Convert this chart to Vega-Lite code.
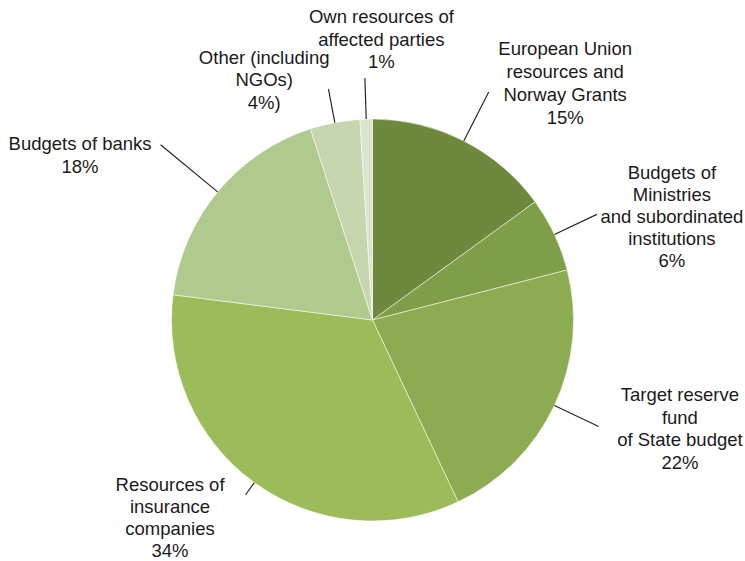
{
  "$schema": "https://vega.github.io/schema/vega-lite/v6.json",
  "width": 745,
  "height": 482,
  "autosize": {"type": "none"},
  "padding": {"top": 79, "left": 0, "right": 0, "bottom": 0},
  "background": "#ffffff",
  "config": {"view": {"stroke": null}},
  "data": {
    "values": [
      {"i": 1, "k": "EU", "value": 15, "label": "European Union\nresources and\nNorway Grants\n15%"},
      {"i": 2, "k": "MIN", "value": 6, "label": "Budgets of\nMinistries\nand subordinated\ninstitutions\n6%"},
      {"i": 3, "k": "TGT", "value": 22, "label": "Target reserve\nfund\nof State budget\n22%"},
      {"i": 4, "k": "INS", "value": 34, "label": "Resources of\ninsurance\ncompanies\n34%"},
      {"i": 5, "k": "BNK", "value": 18, "label": "Budgets of banks\n18%"},
      {"i": 6, "k": "OTH", "value": 4, "label": "Other (including\nNGOs)\n4%)"},
      {"i": 7, "k": "OWN", "value": 1, "label": "Own resources of\naffected parties\n1%"}
    ]
  },
  "encoding": {
    "theta": {"field": "value", "type": "quantitative", "stack": true},
    "order": {"field": "i", "type": "quantitative"}
  },
  "layer": [
    {
      "mark": {"type": "arc", "radius": 201, "stroke": "#ffffff", "strokeWidth": 0.5},
      "encoding": {
        "color": {
          "field": "k", "type": "nominal", "legend": null,
          "scale": {
            "domain": ["EU", "MIN", "TGT", "INS", "BNK", "OTH", "OWN"],
            "range": ["#6e893d", "#7f9e48", "#8dac52", "#9cbc59", "#b0c98c", "#c6d6ae", "#dbe5cd"]
          }
        }
      }
    },
    {
      "mark": {"type": "arc", "radius": 256, "radius2": 201, "padAngle": 3, "fillOpacity": 0, "stroke": "#262626", "strokeWidth": 1.2},
      "encoding": {"strokeOpacity": {"condition": {"test": "datum.k === 'EU'", "value": 1}, "value": 0}}
    },
    {
      "mark": {"type": "arc", "radius": 248, "radius2": 201, "padAngle": 3, "fillOpacity": 0, "stroke": "#262626", "strokeWidth": 1.2},
      "encoding": {"strokeOpacity": {"condition": {"test": "datum.k === 'MIN'", "value": 1}, "value": 0}}
    },
    {
      "mark": {"type": "arc", "radius": 250, "radius2": 201, "padAngle": 3, "fillOpacity": 0, "stroke": "#262626", "strokeWidth": 1.2},
      "encoding": {"strokeOpacity": {"condition": {"test": "datum.k === 'TGT'", "value": 1}, "value": 0}}
    },
    {
      "mark": {"type": "arc", "radius": 216, "radius2": 201, "padAngle": 3, "fillOpacity": 0, "stroke": "#262626", "strokeWidth": 1.2},
      "encoding": {"strokeOpacity": {"condition": {"test": "datum.k === 'INS'", "value": 1}, "value": 0}}
    },
    {
      "mark": {"type": "arc", "radius": 275, "radius2": 201, "padAngle": 3, "fillOpacity": 0, "stroke": "#262626", "strokeWidth": 1.2},
      "encoding": {"strokeOpacity": {"condition": {"test": "datum.k === 'BNK'", "value": 1}, "value": 0}}
    },
    {
      "mark": {"type": "arc", "radius": 235, "radius2": 201, "padAngle": 3, "fillOpacity": 0, "stroke": "#262626", "strokeWidth": 1.2},
      "encoding": {"strokeOpacity": {"condition": {"test": "datum.k === 'OTH'", "value": 1}, "value": 0}}
    },
    {
      "mark": {"type": "arc", "radius": 242, "radius2": 201, "padAngle": 3, "fillOpacity": 0, "stroke": "#262626", "strokeWidth": 1.2},
      "encoding": {"strokeOpacity": {"condition": {"test": "datum.k === 'OWN'", "value": 1}, "value": 0}}
    },
    {
      "mark": {"type": "text", "radius": 290, "dx": 61, "dy": -12.5, "align": "center", "baseline": "middle", "lineBreak": "\n", "lineHeight": 23, "font": "Liberation Sans", "fontSize": 18.5, "color": "#1a1a1a"},
      "encoding": {"text": {"condition": {"test": "datum.k === 'EU'", "field": "label", "type": "nominal"}, "value": ""}}
    },
    {
      "mark": {"type": "text", "radius": 290, "dx": 37, "dy": -24, "align": "center", "baseline": "middle", "lineBreak": "\n", "lineHeight": 22, "font": "Liberation Sans", "fontSize": 18.5, "color": "#1a1a1a"},
      "encoding": {"text": {"condition": {"test": "datum.k === 'MIN'", "field": "label", "type": "nominal"}, "value": ""}}
    },
    {
      "mark": {"type": "text", "radius": 290, "dx": 45, "dy": -48, "align": "center", "baseline": "middle", "lineBreak": "\n", "lineHeight": 22.5, "font": "Liberation Sans", "fontSize": 18.5, "color": "#1a1a1a"},
      "encoding": {"text": {"condition": {"test": "datum.k === 'TGT'", "field": "label", "type": "nominal"}, "value": ""}}
    },
    {
      "mark": {"type": "text", "radius": 290, "dx": -32, "dy": -70, "align": "center", "baseline": "middle", "lineBreak": "\n", "lineHeight": 22, "font": "Liberation Sans", "fontSize": 18.5, "color": "#1a1a1a"},
      "encoding": {"text": {"condition": {"test": "datum.k === 'INS'", "field": "label", "type": "nominal"}, "value": ""}}
    },
    {
      "mark": {"type": "text", "radius": 290, "dx": -69, "dy": 8.5, "align": "center", "baseline": "middle", "lineBreak": "\n", "lineHeight": 23, "font": "Liberation Sans", "fontSize": 18.5, "color": "#1a1a1a"},
      "encoding": {"text": {"condition": {"test": "datum.k === 'BNK'", "field": "label", "type": "nominal"}, "value": ""}}
    },
    {
      "mark": {"type": "text", "radius": 290, "dx": -54, "dy": 22.5, "align": "center", "baseline": "middle", "lineBreak": "\n", "lineHeight": 22.5, "font": "Liberation Sans", "fontSize": 18.5, "color": "#1a1a1a"},
      "encoding": {"text": {"condition": {"test": "datum.k === 'OTH'", "field": "label", "type": "nominal"}, "value": ""}}
    },
    {
      "mark": {"type": "text", "radius": 290, "dx": 18, "dy": -13, "align": "center", "baseline": "middle", "lineBreak": "\n", "lineHeight": 22.5, "font": "Liberation Sans", "fontSize": 18.5, "color": "#1a1a1a"},
      "encoding": {"text": {"condition": {"test": "datum.k === 'OWN'", "field": "label", "type": "nominal"}, "value": ""}}
    }
  ]
}
